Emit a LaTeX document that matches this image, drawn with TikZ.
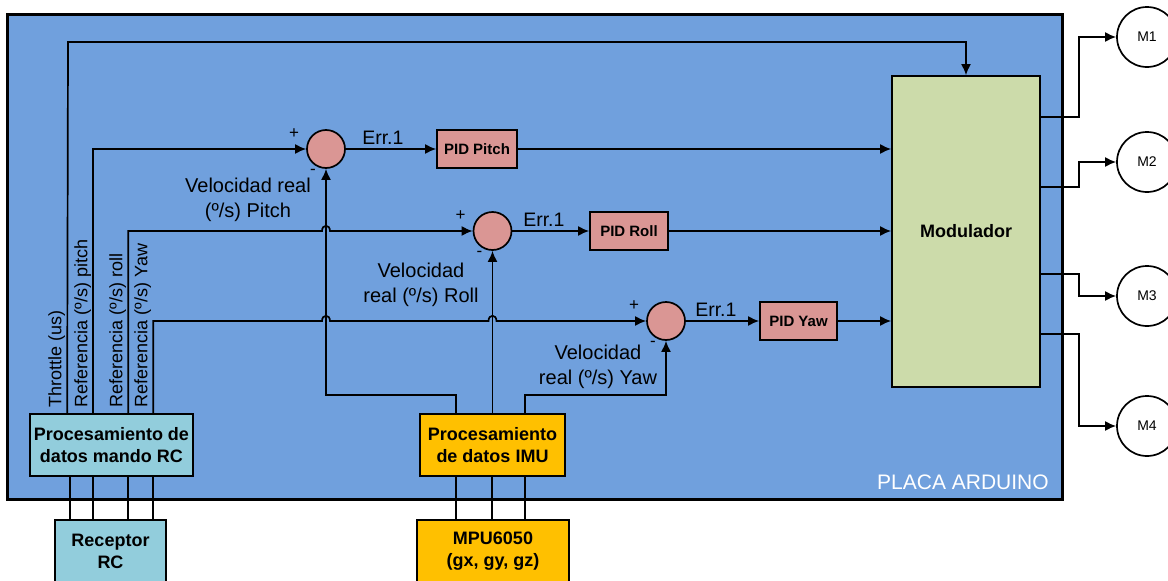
\documentclass[tikz,border=0pt]{standalone}
\usepackage{fontspec}
\setmainfont{Liberation Sans}
\usetikzlibrary{arrows.meta,calc}
\definecolor{placa}{RGB}{112,160,221}
\definecolor{rosa}{RGB}{218,150,148}
\definecolor{verde}{RGB}{204,219,170}
\definecolor{cian}{RGB}{146,205,220}
\definecolor{naranja}{RGB}{255,192,0}
\begin{document}
\begin{tikzpicture}[x=1pt, y=-1pt, line width=1.7pt, >={Latex[length=11pt,width=10pt]},
  sum node/.style={circle,draw,fill=rosa,minimum size=38pt,inner sep=0pt},
  pid node/.style={draw,fill=rosa,minimum height=38pt,inner sep=0pt,font=\fontsize{15}{18}\selectfont\bfseries},
  proc node/.style={draw,minimum height=62pt,inner sep=0pt,align=center,font=\fontsize{18}{22}\selectfont\bfseries},
  motor node/.style={circle,draw,fill=white,minimum size=60pt,inner sep=0pt,font=\fontsize{14}{16}\selectfont},
  ref label/.style={rotate=90,anchor=south west,inner sep=1pt,font=\fontsize{18}{20}\selectfont},
  vel label/.style={align=center,font=\fontsize{20}{25}\selectfont},
  err/.style={font=\fontsize{19.5}{22}\selectfont},
  signo/.style={font=\fontsize{17}{18}\selectfont}]
\useasboundingbox (0,0) rectangle (1168,581);
\draw[line width=3pt,fill=placa] (7,14) rectangle (1062,499);
\node [text=white,font=\fontsize{21}{24}\selectfont] (placa) at (963,482) {PLACA ARDUINO};

\node [sum node](s1) at (326,149) {};
\node [sum node](s2) at (492.5,231) {};
\node [sum node](s3) at (666,321) {};
\node [pid node,minimum width=80pt](p1) at (477,149) {PID Pitch};
\node [pid node,minimum width=78pt](p2) at (629,231) {PID Roll};
\node [pid node,minimum width=77pt](p3) at (798.5,321) {PID Yaw};
\node [proc node,fill=verde,minimum width=148pt,minimum height=311pt](mod) at (966,231.5) {Modulador};
\node [proc node,fill=cian,minimum width=163pt](rc) at (111.5,445) {Procesamiento de\\datos mando RC};
\node [proc node,fill=cian,minimum width=111pt](rx) at (110.5,551) {Receptor\\RC};
\node [proc node,fill=naranja,minimum width=145pt](imu) at (492.5,445) {Procesamiento\\de datos IMU};
\node [proc node,fill=naranja,minimum width=152pt](mpu) at (493,551) {MPU6050\\(gx, gy, gz)};
\node [motor node](m1) at (1147,37) {M1};
\node [motor node](m2) at (1147,162) {M2};
\node [motor node](m3) at (1147,296) {M3};
\node [motor node](m4) at (1147,426) {M4};

% signos de los sumadores
\foreach \s in {s1,s2,s3} {
  \node [signo] at ($(\s)+(-32,-15)$) {+};
  \node [signo] at ($(\s)+(-13,23)$) {-};
}

% etiquetas
\node [ref label] at (67,409) {Throttle (us)};
\node [ref label] at (93,409) {Referencia (º/s) pitch};
\node [ref label] at (128,409) {Referencia (º/s) roll};
\node [ref label] at (153,409) {Referencia (º/s) Yaw};
\node [vel label] at (248,200) {Velocidad real\\(º/s) Pitch};
\node [vel label] at (421,285) {Velocidad\\real (º/s) Roll};
\node [vel label] at (598,367) {Velocidad\\real (º/s) Yaw};

% mando RC
\coordinate (thr) at (68,42);
\draw[->] ([xshift=38]rc.north west) -- (thr) -| (mod.north);
\draw[->] ([xshift=64]rc.north west) |- (s1);
\draw[->] ([xshift=99]rc.north west) |- ($(s1|-s2)+(-4,0)$)
    .. controls +(0,-7) and +(0,-7) .. ($(s1|-s2)+(4,0)$) -- (s2);
\draw[->] ([xshift=124]rc.north west) |- ($(s1|-s3)+(-4,0)$)
    .. controls +(0,-7) and +(0,-7) .. ($(s1|-s3)+(4,0)$) -- ($(s2|-s3)+(-4,0)$)
    .. controls +(0,-7) and +(0,-7) .. ($(s2|-s3)+(4,0)$) -- (s3);

% IMU
\draw[->] ([xshift=37]imu.north west) -- ++(0,-18) -| (s1);
\draw[->] (s2|-imu.north) -- (s2);
\draw[->] ([xshift=106]imu.north west) -- ++(0,-18) -| (s3);

\path[->]
	(s1) edge node[pos=0.41,above,err] {Err.1} (p1)
	(s2) edge node[pos=0.41,above,err] {Err.1} (p2)
	(s3) edge node[pos=0.41,above,err] {Err.1} (p3)
	(p1) edge (p1-|mod.west)
	(p2) edge (p2-|mod.west)
	(p3) edge (p3-|mod.west)
	;

% motores
\draw[->] ([yshift=-42]mod.north east) -- ++(38,0) |- (m1);
\draw[->] ([yshift=-112]mod.north east) -- ++(38,0) |- (m2);
\draw[->] ([yshift=-199]mod.north east) -- ++(38,0) |- (m3);
\draw[->] ([yshift=-259]mod.north east) -- ++(38,0) |- (m4);

% cables
\foreach \a/\b in {41/16,64/39,99/74,124/99}
  \draw ([xshift=\a]rc.south west) -- ([xshift=\b]rx.north west);
\foreach \a/\b in {37/40,73/76,106/109}
  \draw ([xshift=\a]imu.south west) -- ([xshift=\b]mpu.north west);
\end{tikzpicture}
\end{document}
